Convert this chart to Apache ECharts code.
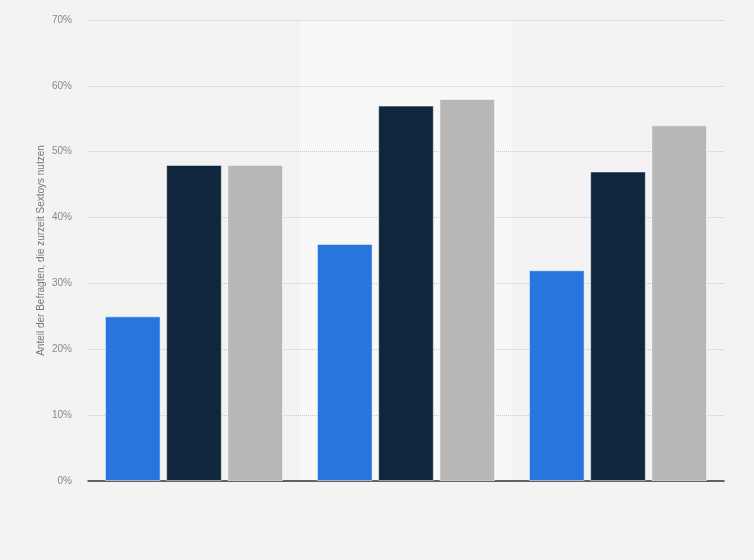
<!DOCTYPE html>
<html>
<head>
<meta charset="utf-8">
<script src="https://cdn.jsdelivr.net/npm/echarts@6/dist/echarts.min.js"></script>
<style>
  html, body { margin: 0; padding: 0; background: #f3f3f3; }
  #main { width: 754px; height: 560px; }
</style>
</head>
<body>
<div id="main"></div>
<script>
// three groups, no visible labels in the source
const categories = ['Gruppe 1', 'Gruppe 2', 'Gruppe 3'];
const seriesA = [25, 36, 32];
const seriesB = [48, 57, 47];
const seriesC = [48, 58, 54];
const yTicks = [0, 10, 20, 30, 40, 50, 60, 70];

const chart = echarts.init(document.getElementById('main'));

const barStyle = (color) => ({
  color: color,
  borderColor: 'rgba(255,255,255,0.5)',
  borderWidth: 1
});

chart.setOption({
  backgroundColor: '#f3f3f3',
  animation: false,
  grid: { left: 88, right: 30, top: 20, bottom: 79 },
  xAxis: {
    type: 'category',
    data: categories,
    z: 0,
    axisLine: { lineStyle: { color: '#333', width: 1.5 } },
    axisTick: { show: false },
    axisLabel: { show: false },
    splitArea: { show: true, areaStyle: { color: ['rgba(0,0,0,0)', '#f8f8f8'] } }
  },
  yAxis: {
    type: 'value',
    z: 1,
    min: yTicks[0],
    max: yTicks[yTicks.length - 1],
    interval: 10,
    name: 'Anteil der Befragten, die zurzeit Sextoys nutzen',
    nameLocation: 'middle',
    nameGap: 42,
    nameMoveOverlap: false,
    nameTextStyle: { color: '#777', fontSize: 10, fontFamily: 'Arial, Liberation Sans' },
    axisLine: { show: false },
    axisTick: { show: false },
    axisLabel: {
      formatter: '{value}%',
      color: '#888',
      fontSize: 10,
      margin: 16,
      fontFamily: 'Arial, Liberation Sans'
    },
    splitLine: { showMinLine: false, lineStyle: { color: '#c8c8c8', type: [1, 1] } }
  },
  series: [
    { name: 'A', type: 'bar', data: seriesA, itemStyle: barStyle('#2876dd'),
      barGap: '10%', barCategoryGap: '16%', z: 3 },
    { name: 'B', type: 'bar', data: seriesB, itemStyle: barStyle('#10263d'), z: 3 },
    { name: 'C', type: 'bar', data: seriesC, itemStyle: barStyle('#b7b7b7'), z: 3 }
  ]
});
</script>
</body>
</html>
